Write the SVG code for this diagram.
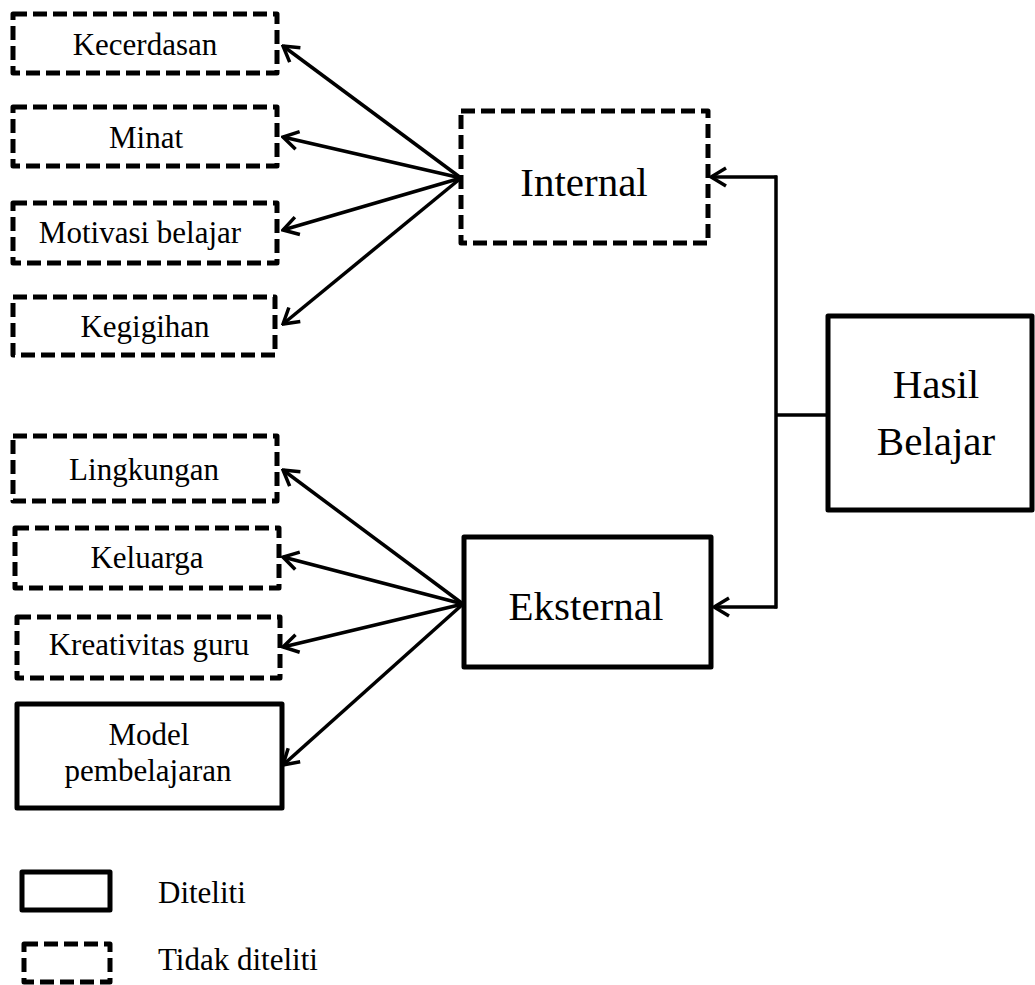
<svg xmlns="http://www.w3.org/2000/svg" width="1035" height="985" viewBox="0 0 1035 985">
<defs>
<style>
.box{fill:#fff;stroke:#000;stroke-width:5;stroke-linejoin:round}
.dash{stroke-dasharray:14 6}
.t{font-family:"Liberation Serif","Times New Roman",serif;font-size:31px;fill:#000;text-anchor:middle}
.big{font-size:41px}
.ln{fill:none;stroke:#000;stroke-width:3.5}
</style>
<marker id="arr" viewBox="-18 -11 20 22" refX="0" refY="0" markerWidth="20" markerHeight="22" markerUnits="userSpaceOnUse" orient="auto">
<path d="M-15,-9 L0,0 L-15,9" fill="none" stroke="#000" stroke-width="3.5"/>
</marker>
</defs>
<rect width="1035" height="985" fill="#fff"/>
<g id="connectors">
<line class="ln" x1="461" y1="178" x2="283" y2="46" marker-end="url(#arr)"/>
<line class="ln" x1="461" y1="178" x2="283" y2="137" marker-end="url(#arr)"/>
<line class="ln" x1="461" y1="178" x2="283" y2="230" marker-end="url(#arr)"/>
<line class="ln" x1="461" y1="178" x2="283" y2="324" marker-end="url(#arr)"/>
<line class="ln" x1="463" y1="604" x2="283" y2="470" marker-end="url(#arr)"/>
<line class="ln" x1="463" y1="604" x2="283" y2="557" marker-end="url(#arr)"/>
<line class="ln" x1="463" y1="604" x2="283" y2="647" marker-end="url(#arr)"/>
<line class="ln" x1="463" y1="604" x2="283" y2="765" marker-end="url(#arr)"/>
<line class="ln" x1="828" y1="415" x2="776" y2="415"/>
<line class="ln" x1="776" y1="175.5" x2="776" y2="608.5"/>
<line class="ln" x1="777" y1="177" x2="711" y2="177" marker-end="url(#arr)"/>
<line class="ln" x1="777" y1="607" x2="714" y2="607" marker-end="url(#arr)"/>
</g>
<g id="kecerdasan"><rect class="box dash" x="13" y="14" width="264" height="59"/><text class="t" x="145" y="55">Kecerdasan</text></g>
<g id="minat"><rect class="box dash" x="13" y="107" width="264" height="59"/><text class="t" x="146" y="148">Minat</text></g>
<g id="motivasi"><rect class="box dash" x="13" y="203" width="264" height="60"/><text class="t" x="140" y="243">Motivasi belajar</text></g>
<g id="kegigihan"><rect class="box dash" x="13" y="297" width="262" height="58"/><text class="t" x="145" y="337">Kegigihan</text></g>
<g id="lingkungan"><rect class="box dash" x="13" y="436" width="264" height="65"/><text class="t" x="144" y="480">Lingkungan</text></g>
<g id="keluarga"><rect class="box dash" x="15" y="528" width="264" height="60"/><text class="t" x="147" y="568">Keluarga</text></g>
<g id="kreativitas"><rect class="box dash" x="17" y="617" width="263" height="61"/><text class="t" x="149" y="655">Kreativitas guru</text></g>
<g id="model"><rect class="box" x="17" y="704" width="265" height="104"/><text class="t" x="149" y="745">Model</text><text class="t" x="148" y="781">pembelajaran</text></g>
<g id="internal"><rect class="box dash" x="461" y="111" width="247" height="132"/><text class="t big" x="584" y="196">Internal</text></g>
<g id="eksternal"><rect class="box" x="464" y="537" width="247" height="130"/><text class="t big" x="586" y="620">Eksternal</text></g>
<g id="hasil"><rect class="box" x="828" y="316" width="204" height="194"/><text class="t big" x="936" y="398">Hasil</text><text class="t big" x="936" y="455">Belajar</text></g>
<g id="legend">
<rect class="box" x="22" y="872" width="88" height="38"/>
<text class="t" x="158" y="903" style="text-anchor:start">Diteliti</text>
<rect class="box dash" x="24" y="944" width="86" height="38"/>
<text class="t" x="158" y="970" style="text-anchor:start">Tidak diteliti</text>
</g>
</svg>
